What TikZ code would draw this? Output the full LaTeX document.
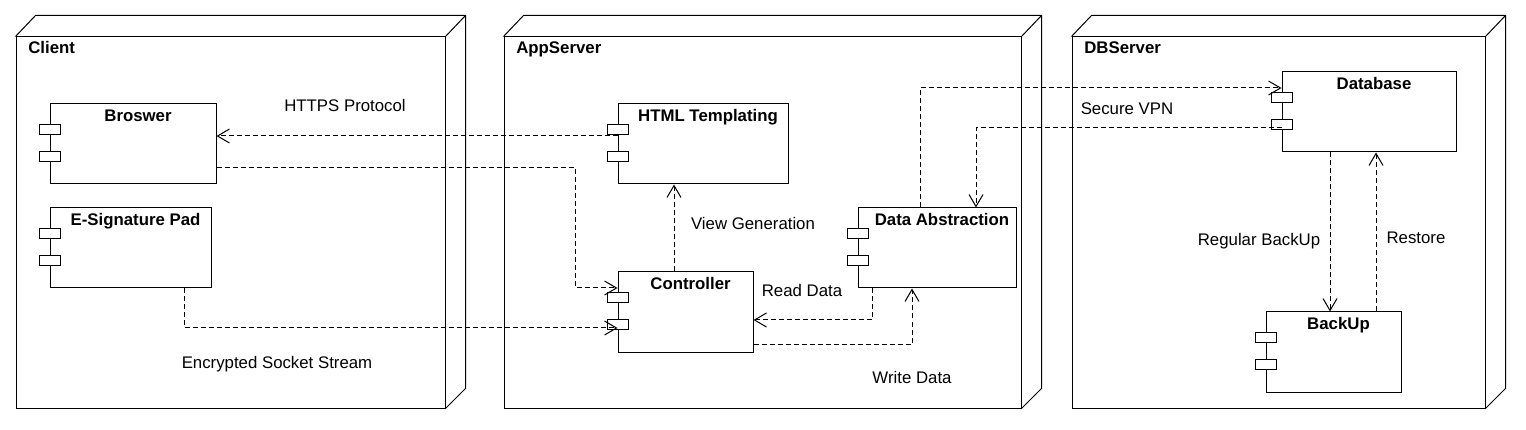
\documentclass[tikz,border=0pt]{standalone}
\usepackage{fontspec}
\setmainfont{Liberation Sans}
\usetikzlibrary{arrows.meta}
\begin{document}
\begin{tikzpicture}[x=1pt,y=-1pt,line width=1pt,font=\fontsize{16.8}{20}\selectfont,
		dnode/.style={draw,minimum height=371pt},
		dttl/.style={anchor=base west,xshift=9pt,yshift=-17pt,font=\fontsize{16.8}{20}\selectfont\bfseries},
		comp/.style={draw,fill=white,minimum height=80pt},
		ttl/.style={anchor=base,xshift=5pt,yshift=-18pt,font=\fontsize{16.8}{20}\selectfont\bfseries},
		port/.style={draw,fill=white},
		dep/.style={dash pattern=on 5pt off 3pt,-{Straight Barb[length=12pt,width=14pt]}},
		txt/.style={anchor=base}]
				\useasboundingbox (0,0) rectangle (1526,430);
				\node[dnode,minimum width=429pt,label={[dttl]north west:Client}] (client) at (230.5,222.5) {};
				\node[dnode,minimum width=517pt,label={[dttl]north west:AppServer}] (app) at (762.5,222.5) {};
				\node[dnode,minimum width=413pt,label={[dttl]north west:DBServer}] (dbs) at (1278.5,222.5) {};
				\foreach \n in {client,app,dbs}{
						\draw (\n.north west) -- ++(20,-21) -- ([shift={(20,-21)}]\n.north east) -- ([shift={(20,-20)}]\n.south east) -- (\n.south east) (\n.north east) -- ++(20,-21);
					}
				\node[comp,minimum width=166pt,label={[ttl]north:Broswer}] (bro) at (133,144) {};
				\node[comp,minimum width=161pt,label={[ttl]north:E-Signature Pad}] (sig) at (130.5,248) {};
				\node[comp,minimum width=170pt,label={[ttl]north:HTML Templating}] (html) at (703,144) {};
				\node[comp,minimum width=135pt,label={[ttl]north:Controller}] (ctrl) at (685.5,312) {};
				\node[comp,minimum width=158pt,label={[ttl]north:Data Abstraction}] (da) at (937,248) {};
				\node[comp,minimum width=174pt,label={[ttl]north:Database}] (db) at (1369,112) {};
				\node[comp,minimum width=135pt,label={[ttl]north:BackUp}] (bk) at (1333.5,352) {};
				\foreach \n in {bro,sig,html,ctrl,da,db,bk}{
						\draw[port] ([shift={(-10,21)}]\n.north west) rectangle ++(21,10) ([shift={(-10,48)}]\n.north west) rectangle ++(21,10);
					}
				\draw[dep] ([shift={(0,-8)}]html.west) -- ([shift={(0,-8)}]bro.east);
				\draw[dep] ([shift={(0,24)}]bro.east) -| ([shift={(-42,-24)}]ctrl.west) -- ([shift={(0,-24)}]ctrl.west);
				\draw[dep] ([shift={(53.5,0)}]sig.south) |- ([shift={(0,16)}]ctrl.west);
				\draw[dep] ([shift={(-11.5,0)}]ctrl.north) -- ([shift={(-11.5,0)}]ctrl.north |- html.south);
				\draw[dep] ([shift={(-65,0)}]da.south) |- ([shift={(0,8)}]ctrl.east);
				\draw[dep] ([shift={(0,32)}]ctrl.east) -| ([shift={(-25,0)}]da.south);
				\draw[dep] ([shift={(-17,0)}]da.north) |- ([shift={(0,-24)}]db.west);
				\draw[dep] ([shift={(0,16)}]db.west) -| ([shift={(39,0)}]da.north);
				\draw[dep] ([shift={(-39,0)}]db.south) -- ([shift={(-39,0)}]db.south |- bk.north);
				\draw[dep] ([shift={(42.5,0)}]bk.north) -- ([shift={(42.5,0)}]bk.north |- db.south);
				\node[txt] (https) at (345,112) {HTTPS Protocol};
				\node[txt] (sock) at (277,368) {Encrypted Socket Stream};
				\node[txt] (view) at (753,230) {View Generation};
				\node[txt] (read) at (802,297) {Read Data};
				\node[txt] (write) at (912,383) {Write Data};
				\node[txt] (vpn) at (1127,115) {Secure VPN};
				\node[txt] (reg) at (1259,246) {Regular BackUp};
				\node[txt] (rest) at (1416,244) {Restore};
			\end{tikzpicture}
\end{document}
